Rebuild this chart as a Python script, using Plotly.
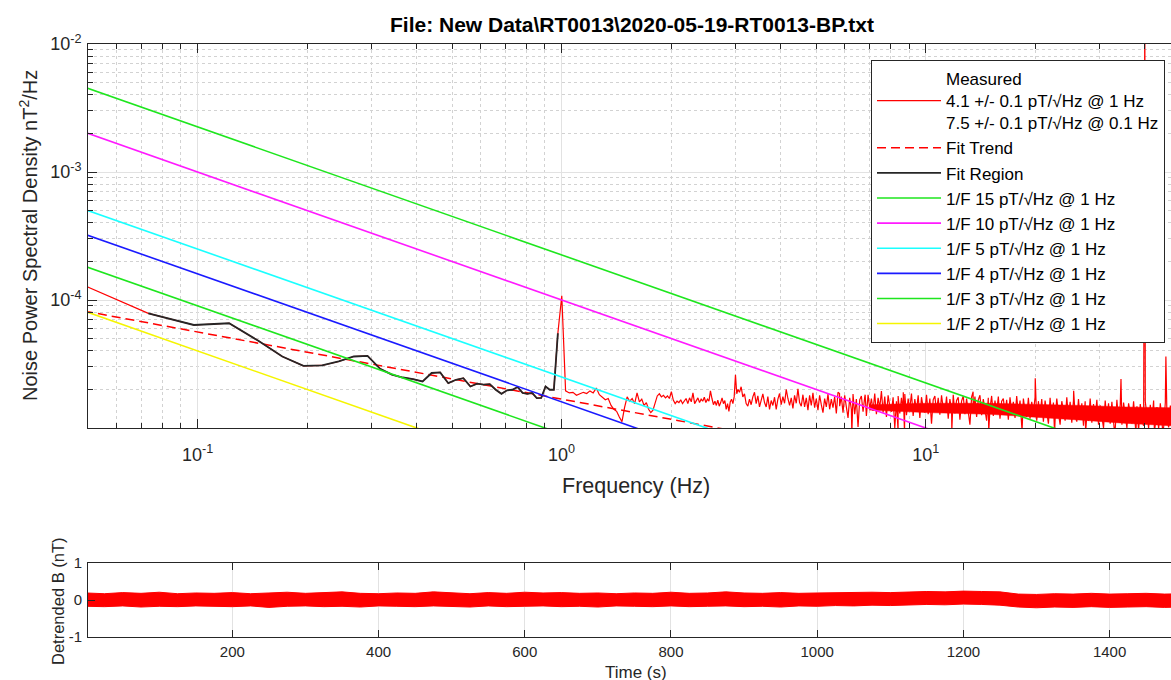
import numpy as np
import plotly.graph_objects as go

FONT = "Liberation Sans, Arial, sans-serif"
AX = "#262626"

# ---------------- data ----------------
DF = 100 / 4096          # FFT bin spacing (Hz)
BIN_START = 2            # first bin index in psd_bins_e6

# PSD per FFT bin, k = 2 .. 125   (units 1e-6 nT^2/Hz)
psd_bins_e6 = [
    130, 78.7, 63.8, 65.8, 48.2, 36.2, 30.6, 30.8, 33.1, 36.2,
    36.6, 29.0, 26.1, 24.8, 24.1, 23.1, 26.9, 27.2, 22.4, 23.8,
    24.5, 21.1, 22.2, 21.8, 22.0, 19.9, 18.5, 19.7, 19.9, 20.9,
    18.8, 18.5, 18.8, 17.1, 17.2, 21.1, 19.9, 19.9, 55.0, 108.0,
    19.5, 18.8, 19.0, 18.0, 18.5, 19.0, 18.6, 19.5, 18.8, 20.5,
    18.2, 17.5, 16.6, 17.0, 15.0, 14.0, 13.5, 12.2, 11.2, 14.5,
    17.5, 16.2, 17.0, 15.5, 18.8, 16.0, 16.8, 15.0, 15.8, 14.0,
    13.2, 13.8, 15.5, 17.8, 18.5, 17.5, 18.0, 17.2, 17.8, 17.0,
    19.2, 16.5, 15.5, 16.2, 15.8, 16.6, 15.5, 16.2, 17.0, 15.5,
    17.2, 16.0, 18.8, 15.5, 16.5, 17.2, 15.8, 16.8, 16.2, 17.4,
    15.8, 16.8, 16.2, 19.5, 17.0, 15.2, 16.2, 15.0, 16.5, 14.8,
    15.8, 17.2, 15.5, 16.4, 14.0, 15.5, 13.5, 16.0, 16.8, 15.5,
    17.5, 26.1, 18.5, 20.0,
]
FIT_K = (3, 40)          # fit region, bin indices (inclusive)

# PSD above ~3 Hz (units 1e-6 nT^2/Hz)
HI_F0, HI_F1 = 3.08, 47.5
psd_hi_e6 = [
    19, 21, 17.5, 18.5, 15.5, 14.8, 16.8, 15.2, 17.5, 19, 15.5, 17.8, 14.6, 17, 18.5, 15.8, 14.6, 17.6, 14, 16.4,
    15, 17.4, 14, 16.8, 18.6, 15.2, 17.6, 15.6, 20, 17, 15, 17.2, 14.2, 18, 15.6, 20.2, 15.8, 14.8, 18.2, 14.6,
    17.2, 13.8, 18, 15, 18.8, 14.4, 17, 13.8, 18, 15.2, 13.2, 17, 14.6, 18.4, 14, 16.8, 14.4, 17.6, 13, 19,
    14.8, 17.6, 13.2, 18, 14.6, 12, 17.2, 14, 18.4, 12.8, 16.8, 10.2, 16.6, 17.8, 13.4, 17.4, 12.4, 18.2, 14.2, 17,
    13.6, 18.6, 12.8, 17.2, 14.4, 19.4, 13.2, 17.6, 12.2, 18, 14.8, 13.4, 17.4, 10, 16.2, 17.8, 13, 17.2, 13.8, 18.4,
    12.6, 17, 14.2, 18.6, 12.4, 16.8, 13.6, 18, 12, 17.4, 14.4, 13.2, 18.2, 12.8, 17, 10.8, 16.6, 17.8, 13.4, 17.2,
    12.7, 18, 14.2, 13.2, 17.6, 11.8, 16.8, 14, 18.2, 13, 16.4, 17.4, 11.6, 16.2, 17.8, 12.8, 17, 13.6, 10.6, 17.4,
    13.4, 17.6, 12.2, 16.6, 18, 12.6, 16.8, 13.8, 11.4, 17.2, 14.2, 17.8, 12.4, 16.4, 13.2, 17.6, 11.8, 16.2, 17, 13,
    16.6, 11.6, 17.4, 13.4, 16, 12, 17.8, 12.8, 16.4, 11, 17, 13.6, 12.2, 17.2, 11.8, 16, 13.2, 17.4, 11.4, 16.2,
    12.6, 16.8, 11.2, 16.4, 13.4, 10.8, 17.2, 12.2, 15.8, 11.6, 17, 13, 10.6, 16.2, 13.2, 11.4, 17.4, 12, 16, 11,
    16.4, 12.4, 11.2, 16.8, 11.8, 15.6, 10.4, 16.2, 12.6, 11.4, 17, 11, 15.4, 12, 16.6, 10.6, 15, 12.2, 10, 16.4,
    11.6, 15.6, 10.8, 16, 12, 9.8, 16.6, 11.4, 15.2, 10.6, 15.8, 11.8, 10, 15.6, 12.4, 10.8, 16.2, 11.2, 14.8, 9.6,
    15.4, 11.6, 10.4, 16, 12, 10, 15.2, 11.2, 16.4, 10.6, 14.6, 9.8, 15.6, 11.4, 10.2, 15.8, 11.8, 10.1, 15, 11.2,
]

# narrow spectral lines and dips (Hz, 1e-6 nT^2/Hz)
spike_f = [5.8, 6.82, 8.68, 13.5, 20.0, 25.5, 34.4, 40.0, 45.7]
spike_v_e6 = [18.6, 18.2, 19.0, 19.2, 24.5, 19.5, 24.1, 20000, 36.2]
dip_f = [6.27, 8.4, 8.75, 11.8, 14.9, 18.4, 22.6, 27.5, 33.0, 37.8, 42.5, 44.8]
dip_v_e6 = [9.2, 9.4, 9.0, 9.6, 9.3, 9.5, 9.0, 9.2, 9.4, 9.1, 9.3, 9.0]

# dense-noise band core (Hz, 1e-6 nT^2/Hz)
env_f = [7, 10, 15, 20, 27, 35, 47.5]
env_hi_e6 = [15.2, 15.6, 15.6, 15.4, 15.0, 14.6, 14.4]
env_lo_e6 = [13.8, 13.2, 12.8, 12.2, 11.5, 10.9, 10.4]

# legend fit results (pT/sqrt(Hz) at Hz)
fit_amp = [(0.1, 7.5), (1.0, 4.1)]
onef_amp = [15, 10, 5, 4, 3, 2]
onef_col = ["#1ee61e", "#ff1aff", "#1affff", "#1a1aff", "#1ee61e", "#f5f500"]

# detrended time series envelope (s, nT)
ts_t = list(range(0, 1501, 25))
ts_upper = [0.19, 0.17, 0.20, 0.18, 0.21, 0.17, 0.19, 0.18, 0.20, 0.17, 0.19, 0.21, 0.18, 0.19, 0.22, 0.18,
            0.17, 0.19, 0.18, 0.22, 0.19, 0.17, 0.20, 0.18, 0.21, 0.19, 0.20, 0.18, 0.19, 0.17, 0.19, 0.18,
            0.21, 0.18, 0.19, 0.22, 0.19, 0.18, 0.20, 0.18, 0.19, 0.20, 0.19, 0.21, 0.20, 0.22, 0.23, 0.22,
            0.24, 0.23, 0.22, 0.16, 0.15, 0.17, 0.16, 0.18, 0.16, 0.17, 0.18, 0.16, 0.17]
ts_lower = [-0.17, -0.18, -0.16, -0.19, -0.17, -0.18, -0.16, -0.17, -0.18, -0.16, -0.20, -0.17, -0.16, -0.18,
            -0.17, -0.19, -0.16, -0.17, -0.18, -0.16, -0.17, -0.19, -0.16, -0.18, -0.17, -0.16, -0.18, -0.17,
            -0.19, -0.16, -0.17, -0.18, -0.16, -0.18, -0.17, -0.16, -0.18, -0.17, -0.19, -0.16, -0.17, -0.15,
            -0.16, -0.14, -0.15, -0.13, -0.12, -0.13, -0.11, -0.12, -0.14, -0.19, -0.21, -0.19, -0.20, -0.18,
            -0.20, -0.19, -0.18, -0.20, -0.19]

TITLE = "File: New Data\\RT0013\\2020-05-19-RT0013-BP.txt"

# ---------------- build ----------------
E6 = 1e-6
bin_f = (np.arange(len(psd_bins_e6)) + BIN_START) * DF
bin_v = np.array(psd_bins_e6) * E6
hi_f = np.geomspace(HI_F0, HI_F1, len(psd_hi_e6))
hi_v = np.array(psd_hi_e6) * E6

all_f = np.concatenate([bin_f, hi_f, spike_f, dip_f])
all_v = np.concatenate([bin_v, hi_v, np.array(spike_v_e6) * E6, np.array(dip_v_e6) * E6])
order = np.argsort(all_f)
meas_f, meas_v = all_f[order], all_v[order]

i0, i1 = FIT_K[0] - BIN_START, FIT_K[1] - BIN_START + 1
fitreg_f, fitreg_v = bin_f[i0:i1], bin_v[i0:i1]

(fa, aa), (fb, ab) = fit_amp
pa, pb = (aa * 1e-3) ** 2, (ab * 1e-3) ** 2
slope = np.log10(pb / pa) / np.log10(fb / fa)
trend_f = np.array([0.0488, 50.0])
trend_v = pb * (trend_f / fb) ** slope

fig = go.Figure()

fig.add_trace(go.Scatter(x=env_f, y=np.array(env_lo_e6) * E6, mode="lines",
                         line=dict(color="red", width=0.5), showlegend=False, hoverinfo="skip"))
fig.add_trace(go.Scatter(x=env_f, y=np.array(env_hi_e6) * E6, mode="lines", fill="tonexty",
                         fillcolor="red", line=dict(color="red", width=0.5),
                         showlegend=False, hoverinfo="skip"))
fig.add_trace(go.Scatter(
    x=meas_f, y=meas_v, mode="lines", line=dict(color="red", width=1.2),
    name="Measured<br>4.1 +/- 0.1 pT/\u221aHz @ 1 Hz<br>7.5 +/- 0.1 pT/\u221aHz @ 0.1 Hz"))
fig.add_trace(go.Scatter(x=trend_f, y=trend_v, mode="lines",
                         line=dict(color="red", width=1.5, dash="9px,5px"), name="Fit Trend"))
fig.add_trace(go.Scatter(x=fitreg_f, y=fitreg_v, mode="lines",
                         line=dict(color="#262626", width=1.8), name="Fit Region"))

lf = np.array([0.045, 55.0])
for a, c in zip(onef_amp, onef_col):
    fig.add_trace(go.Scatter(x=lf, y=(a * 1e-3) ** 2 / lf, mode="lines",
                             line=dict(color=c, width=1.6),
                             name=f"1/F {a} pT/\u221aHz @ 1 Hz"))

fig.add_trace(go.Scatter(x=ts_t, y=ts_lower, mode="lines", line=dict(color="red", width=1),
                         xaxis="x2", yaxis="y2", showlegend=False, hoverinfo="skip"))
fig.add_trace(go.Scatter(x=ts_t, y=ts_upper, mode="lines", fill="tonexty", fillcolor="red",
                         line=dict(color="red", width=1), xaxis="x2", yaxis="y2",
                         showlegend=False, hoverinfo="skip"))

# ---------------- layout ----------------
W, H = 1171, 680
ML, MT, MB = 88, 44, 43
PH = H - MT - MB
top_bottom_px, bot_top_px = 428, 563


def py(p):
    return (H - MB - p) / PH


def px(p):
    return (p - ML) / (W - ML)


def minor_vals(e0, e1):
    return [m * 10.0 ** e for e in range(e0, e1) for m in range(2, 10)]


axis_common = dict(showline=True, linecolor=AX, linewidth=1, ticks="inside", tickcolor=AX,
                   zeroline=False)
MINOR_GRID = "#d2d2d2"
MAJOR_GRID = "#e2e2e2"

fig.update_layout(
    width=W, height=H, autosize=False,
    margin=dict(l=ML, r=0, t=MT, b=MB, pad=0),
    paper_bgcolor="white", plot_bgcolor="white",
    font=dict(family=FONT, color=AX),
    xaxis=dict(type="log", range=[np.log10(0.05), np.log10(47.2)], domain=[0, 1], anchor="y",
               tickvals=[0.1, 1, 10],
               ticktext=["10<sup>-1</sup>", "10<sup>0</sup>", "10<sup>1</sup>"],
               ticklen=9, mirror="allticks", showgrid=True, gridcolor=MAJOR_GRID,
               ticklabelstandoff=10, tickfont=dict(family=FONT, color=AX, size=18),
               minor=dict(tickvals=minor_vals(-2, 2), ticks="inside", ticklen=5, tickcolor=AX,
                          showgrid=True, gridcolor=MINOR_GRID, griddash="dot"),
               **axis_common),
    yaxis=dict(type="log", range=[-5, -2], domain=[py(top_bottom_px), 1], anchor="x",
               tickvals=[1e-4, 1e-3, 1e-2],
               ticktext=["10<sup>-4</sup>", "10<sup>-3</sup>", "10<sup>-2</sup>"],
               ticklen=9, mirror=False, showgrid=True, gridcolor=MAJOR_GRID,
               ticklabelstandoff=2, tickfont=dict(family=FONT, color=AX, size=18),
               minor=dict(tickvals=minor_vals(-5, -2), ticks="inside", ticklen=5, tickcolor=AX,
                          showgrid=True, gridcolor=MINOR_GRID, griddash="dot"),
               **axis_common),
    xaxis2=dict(range=[2.5, 1484], domain=[0, 1], anchor="y2",
                tickvals=[200, 400, 600, 800, 1000, 1200, 1400],
                ticklen=7, mirror="allticks", showgrid=True, gridcolor=MAJOR_GRID,
                ticklabelstandoff=1, tickfont=dict(family=FONT, color=AX, size=15),
                **axis_common),
    yaxis2=dict(range=[-1, 1], domain=[0, py(bot_top_px)], anchor="x2",
                tickvals=[-1, 0, 1], ticktext=["-1", "0", "1"],
                ticklen=7, mirror=False, showgrid=True, gridcolor=MAJOR_GRID,
                ticklabelstandoff=2, tickfont=dict(family=FONT, color=AX, size=15),
                **axis_common),
    legend=dict(x=px(1165), y=py(60), xanchor="right", yanchor="top",
                bgcolor="white", bordercolor=AX, borderwidth=1,
                font=dict(family=FONT, size=17, color="black"),
                itemwidth=64, tracegroupgap=0, traceorder="normal"),
    showlegend=True,
    annotations=[
        dict(text=f"<b>{TITLE}</b>", x=px(632), y=py(25), xref="paper", yref="paper",
             showarrow=False, xanchor="center", yanchor="middle",
             font=dict(family=FONT, size=21, color="black")),
        dict(text="Frequency (Hz)", x=px(636), y=py(486), xref="paper", yref="paper",
             showarrow=False, xanchor="center", yanchor="middle",
             font=dict(family=FONT, size=21.5, color=AX)),
        dict(text="Noise Power Spectral Density nT<sup>2</sup>/Hz", x=px(28), y=py(236),
             xref="paper", yref="paper", showarrow=False, textangle=-90,
             xanchor="center", yanchor="middle", font=dict(family=FONT, size=20, color=AX)),
        dict(text="Time (s)", x=px(636), y=py(672), xref="paper", yref="paper",
             showarrow=False, xanchor="center", yanchor="middle",
             font=dict(family=FONT, size=17, color=AX)),
        dict(text="Detrended B (nT)", x=px(58), y=py(602), xref="paper", yref="paper",
             showarrow=False, textangle=-90, xanchor="center", yanchor="middle",
             font=dict(family=FONT, size=16.5, color=AX)),
    ],
)

fig.write_html("out.html")
